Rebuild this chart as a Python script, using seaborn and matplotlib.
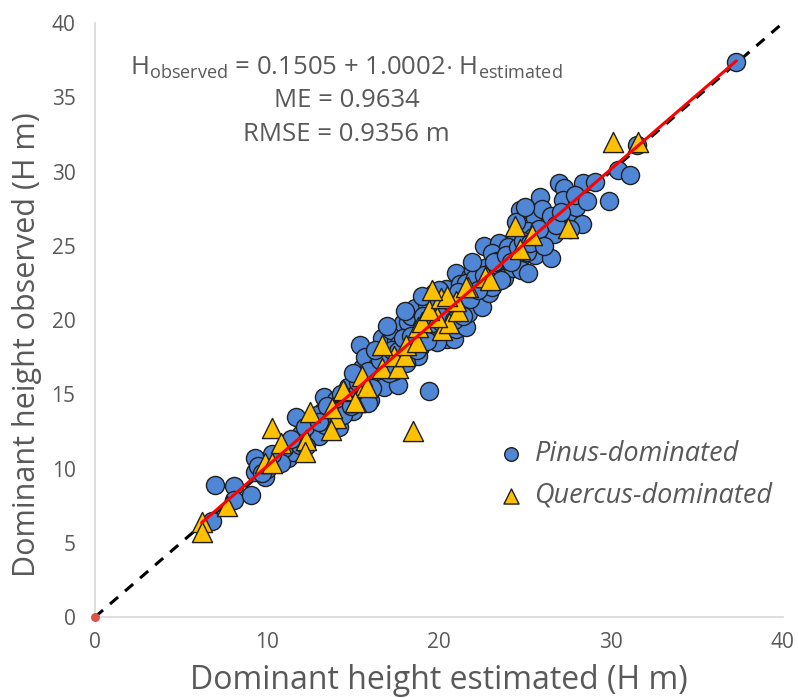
import matplotlib
matplotlib.use("Agg")
import matplotlib.pyplot as plt
import seaborn as sns
import numpy as np
import pandas as pd

# ---- data ----
pinus_est = [6.8, 7.0, 8.1, 8.1, 9.1, 9.3, 9.3, 9.9, 9.5, 10.0, 9.7,
             10.5, 11.2, 11.5, 11.0, 11.7, 12.0, 12.4, 12.8, 11.9, 12.6, 13.0, 12.2, 10.8,
             13.3, 13.4, 14.2, 15.0, 14.1, 13.6, 13.8, 14.5, 14.8, 13.2, 14.0, 14.4, 14.7, 15.2,
             16.0, 15.4, 15.6, 16.0, 15.8, 16.3, 16.6, 15.5, 16.2, 16.9, 16.5, 17.0, 15.7, 16.8, 15.9, 16.4, 17.0, 16.7,
             17.6, 17.3, 17.5, 17.8, 18.0, 17.2, 18.3, 18.5, 17.9, 18.7, 18.2, 18.9, 17.7, 18.4, 19.0, 18.8, 17.4, 18.6,
             19.4, 19.2, 19.5, 19.8, 20.0, 19.3, 20.3, 20.5, 20.9, 20.2, 20.6, 19.7, 21.0, 20.8, 19.9, 20.4, 21.0,
             21.6, 21.0, 21.8, 22.2, 21.4, 21.7, 22.0, 22.4, 21.2, 22.7, 22.0, 22.8, 21.6, 22.5, 22.9, 21.3,
             23.5, 23.1, 23.0, 23.7, 22.6, 23.5, 23.1, 24.1, 23.8, 24.3, 24.5, 24.0, 24.7, 23.4, 24.8,
             25.2, 25.6, 25.9, 26.5, 24.7, 25.4, 25.6, 25.9, 26.0, 26.9, 25.2, 26.3, 25.5, 26.7,
             27.6, 28.3, 27.6, 27.0, 27.3, 27.2, 28.0, 28.4, 29.1, 29.9, 30.4, 31.1, 31.5, 37.3,
             12.3, 12.9, 13.5, 14.3, 14.9, 15.3, 15.9, 16.1, 16.6, 17.1, 17.3, 17.6, 17.9, 18.1,
             18.4, 18.7, 19.1, 19.3, 19.6, 19.9, 20.1, 20.3, 20.7, 20.9, 21.1, 21.4, 21.8, 22.1,
             22.3, 22.6, 22.9, 23.2, 23.6, 23.9, 24.2, 24.6, 24.9, 25.1, 25.3, 25.8, 26.1, 26.5,
             26.8, 27.1, 27.9, 28.6, 13.0, 11.4, 10.3, 15.0, 16.3, 17.0, 18.0, 19.0, 20.0, 21.9,
             24.5, 25.0]
pinus_obs = [6.5, 8.9, 8.8, 7.9, 8.2, 10.7, 9.8, 9.4, 10.2, 10.0, 9.7,
             10.6, 10.7, 11.1, 11.4, 13.5, 12.3, 12.0, 12.5, 11.6, 13.0, 12.2, 12.8, 10.4,
             14.8, 12.9, 12.8, 13.9, 14.1, 13.5, 13.2, 14.3, 14.9, 13.8, 14.6, 13.6, 15.5, 15.0,
             14.6, 18.3, 16.0, 16.5, 15.1, 15.8, 16.4, 16.8, 17.2, 16.0, 17.6, 17.0, 17.5, 15.5, 14.4, 16.9, 18.2, 18.8,
             15.6, 17.4, 18.6, 17.2, 18.0, 19.3, 17.6, 18.6, 19.8, 19.2, 19.9, 18.2, 18.4, 20.3, 19.6, 17.6, 16.6, 20.8,
             15.2, 19.0, 20.2, 19.4, 20.6, 21.1, 19.8, 18.7, 18.7, 21.3, 20.8, 21.8, 20.2, 21.6, 18.5, 22.1, 19.4,
             19.5, 23.2, 22.9, 21.8, 21.0, 20.5, 22.2, 21.4, 22.4, 22.3, 23.4, 23.6, 22.5, 20.9, 21.8, 21.7,
             23.4, 22.2, 23.2, 23.8, 25.0, 25.2, 24.5, 24.2, 22.8, 23.5, 25.6, 24.9, 24.2, 24.0, 23.4,
             23.2, 24.4, 25.4, 24.2, 27.4, 27.3, 26.9, 28.3, 27.5, 26.9, 26.0, 26.3, 25.6, 25.8,
             26.9, 26.5, 26.1, 29.2, 28.9, 28.1, 27.6, 29.2, 29.3, 28.0, 30.1, 29.8, 31.8, 37.4,
             11.5, 13.6, 14.2, 15.0, 14.2, 15.8, 16.6, 15.4, 17.3, 16.4, 18.0, 17.9, 18.8, 17.1,
             18.9, 18.0, 20.3, 18.6, 19.8, 21.0, 19.9, 20.5, 21.2, 20.0, 21.9, 20.3, 21.4, 22.8,
             22.0, 23.0, 22.6, 23.9, 22.7, 24.4, 23.9, 24.9, 25.3, 24.6, 25.2, 26.1, 25.0, 27.0,
             26.4, 27.3, 28.4, 28.0, 13.1, 12.0, 11.0, 16.4, 18.0, 19.6, 20.6, 21.6, 22.0, 23.9,
             26.6, 27.6]

quercus_est = [6.2, 6.2, 7.7, 9.9, 10.3, 10.3, 10.8, 12.5, 14.0, 13.7, 12.3, 12.2,
               14.5, 15.2, 15.7, 13.8, 14.4, 15.1, 15.5, 15.8, 16.7, 17.6, 17.4, 18.0,
               16.7, 18.1, 18.7, 18.8, 19.0, 20.2, 20.6, 19.9, 19.4, 21.1, 21.0, 20.1,
               20.5, 19.6, 21.7, 22.8, 21.6, 22.7, 23.0, 24.4, 25.4, 24.7, 27.5, 30.1, 31.6, 18.5]
quercus_obs = [6.4, 5.7, 7.5, 10.4, 10.4, 12.7, 11.7, 13.8, 13.4, 12.6, 11.9, 11.1,
               15.2, 14.5, 15.6, 14.1, 15.3, 14.5, 16.2, 15.5, 16.8, 16.8, 17.6, 17.6,
               18.3, 18.3, 18.5, 19.5, 19.9, 19.3, 19.8, 20.2, 20.7, 20.6, 21.3, 21.5,
               21.6, 22.0, 22.2, 22.9, 22.2, 22.9, 22.7, 26.3, 25.7, 24.8, 26.2, 32.0, 32.0, 12.5]

fit_intercept = 0.1505
fit_slope = 1.0002
fit_range = [6.2, 37.3]
one_to_one = [0, 40]

series_names = ["Pinus-dominated", "Quercus-dominated"]

# ---- figure ----
sns.set_theme(style="white")
plt.rcParams['font.family'] = ['Open Sans', 'DejaVu Sans']
plt.rcParams['mathtext.fontset'] = 'custom'
plt.rcParams['mathtext.rm'] = 'Open Sans'

fig = plt.figure(figsize=(7.98, 6.98), dpi=100)
ax = fig.add_axes([0.119, 0.116, 0.862, 0.851])

grey = "#595959"

ax.plot(one_to_one, one_to_one, color="black", lw=2.2, ls=(0, (3.5, 3)), zorder=1)

df_p = pd.DataFrame({"est": pinus_est, "obs": pinus_obs})
df_q = pd.DataFrame({"est": quercus_est, "obs": quercus_obs})
sns.scatterplot(data=df_p, x="est", y="obs", marker="o", s=170, color="#4F86D6",
                edgecolor="#1f1f1f", linewidth=1.0, ax=ax, zorder=2, label=series_names[0])
sns.scatterplot(data=df_q, x="est", y="obs", marker="^", s=210, color="#FFC000",
                edgecolor="#1f1f1f", linewidth=1.0, ax=ax, zorder=3, label=series_names[1])

fx = np.array(fit_range)
ax.plot(fx, fit_intercept + fit_slope * fx, color="#FF0000", lw=2.2, zorder=4)
ax.scatter([0], [0], s=30, color="#D9534F", zorder=5, clip_on=False)

ax.set_xlim(0, 40)
ax.set_ylim(0, 40)
ax.set_xticks([0, 10, 20, 30, 40])
ax.set_yticks(range(0, 41, 5))
for s in ["top", "right"]:
    ax.spines[s].set_visible(False)
for s in ["left", "bottom"]:
    ax.spines[s].set_color("#d9d9d9")
    ax.spines[s].set_linewidth(1.2)
ax.tick_params(axis="both", labelsize=15, colors=grey, length=0)
ax.tick_params(axis="y", pad=14)
ax.tick_params(axis="x", pad=11)
ax.set_xlabel("Dominant height estimated (H m)", fontsize=23, color=grey, labelpad=8)
ax.set_ylabel("Dominant height observed (H m)", fontsize=22, color=grey)
ax.yaxis.set_label_coords(-0.077, 0.458)

cx = 0.366
ax.text(cx, 0.924, r"H$_{\mathregular{observed}}$ = 0.1505 + 1.0002$\cdot$ H$_{\mathregular{estimated}}$",
        transform=ax.transAxes, ha="center", va="center", fontsize=18.5, color=grey)
ax.text(cx, 0.869, "ME = 0.9634", transform=ax.transAxes, ha="center", va="center",
        fontsize=18.5, color=grey)
ax.text(cx, 0.812, "RMSE = 0.9356 m", transform=ax.transAxes, ha="center", va="center",
        fontsize=18.5, color=grey)

leg = ax.legend(loc="center left", bbox_to_anchor=(0.572, 0.239), frameon=False,
                prop={"size": 19.5, "style": "italic"}, handlelength=0.9, handletextpad=0.4,
                labelspacing=0.5, markerscale=0.75, borderaxespad=0, borderpad=0.4)
for t in leg.get_texts():
    t.set_color(grey)

fig.savefig("out.png", dpi=100)
